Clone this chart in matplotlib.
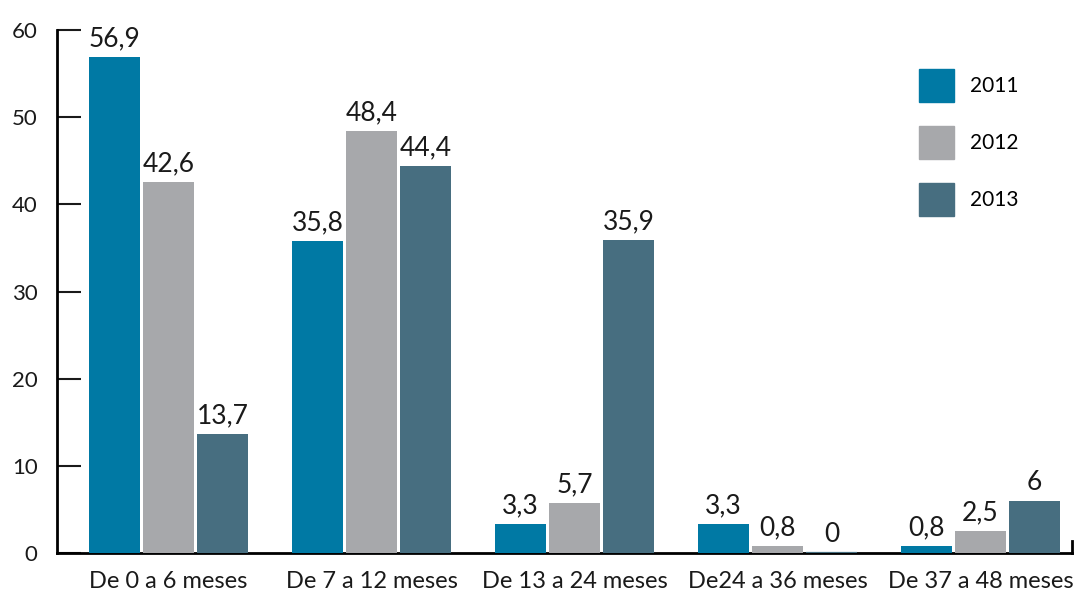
import numpy as np
import matplotlib
matplotlib.use("Agg")
import matplotlib.pyplot as plt
from matplotlib.patches import Patch

plt.rcParams['font.family'] = ['Lato', 'DejaVu Sans']

# datos
categorias = ["De 0 a 6 meses", "De 7 a 12 meses", "De 13 a 24 meses",
              "De24 a 36 meses", "De 37 a 48 meses"]
anios = ["2011", "2012", "2013"]
v2011 = [56.9, 35.8, 3.3, 3.3, 0.8]
v2012 = [42.6, 48.4, 5.7, 0.8, 2.5]
v2013 = [13.7, 44.4, 35.9, 0, 6]
colores = ["#0079a4", "#a7a8ab", "#476e80"]

def fmt(v):
    # coma decimal
    if float(v).is_integer():
        return str(int(v))
    return ("%.1f" % v).replace(".", ",")

fig = plt.figure(figsize=(10.74, 5.94), dpi=100)
ax = fig.add_axes([0.0531, 0.069, 0.9449, 0.8805])

x = np.arange(len(categorias))
ancho = 0.25
paso = 0.266

for i, (serie, col) in enumerate(zip([v2011, v2012, v2013], colores)):
    lw = [1.6 if v == 0 else 0 for v in serie]
    barras = ax.bar(x + (i - 1) * paso, serie, ancho, color=col,
                    edgecolor=col, linewidth=lw, zorder=3)
    ax.bar_label(barras, labels=[fmt(v) for v in serie], padding=4,
                 fontsize=19, color="#1a1a1a")

ax.set_xlim(-0.549, 4.45)
ax.set_ylim(0, 60)
ax.set_yticks(range(0, 61, 10))
ax.set_xticks(x)
ax.set_xticklabels(categorias, fontsize=17, color="#1a1a1a")

ax.spines['top'].set_visible(False)
ax.spines['right'].set_bounds(0, 1.4)
ax.spines['left'].set_linewidth(2)
ax.spines['bottom'].set_linewidth(2)
ax.spines['right'].set_linewidth(2)

ax.tick_params(axis='y', direction='in', length=17, width=1.5, pad=14,
               labelsize=16, colors="#1a1a1a")
ax.tick_params(axis='x', length=0, pad=13)

handles = [Patch(facecolor=c, edgecolor=c) for c in colores]
fig.legend(handles, anios, loc='upper left', bbox_to_anchor=(0.846, 0.901),
           frameon=False, fontsize=15, handlelength=1.68, handleheight=2.05,
           labelspacing=1.15, handletextpad=0.75, borderpad=0)

fig.savefig("out.png", dpi=100)
